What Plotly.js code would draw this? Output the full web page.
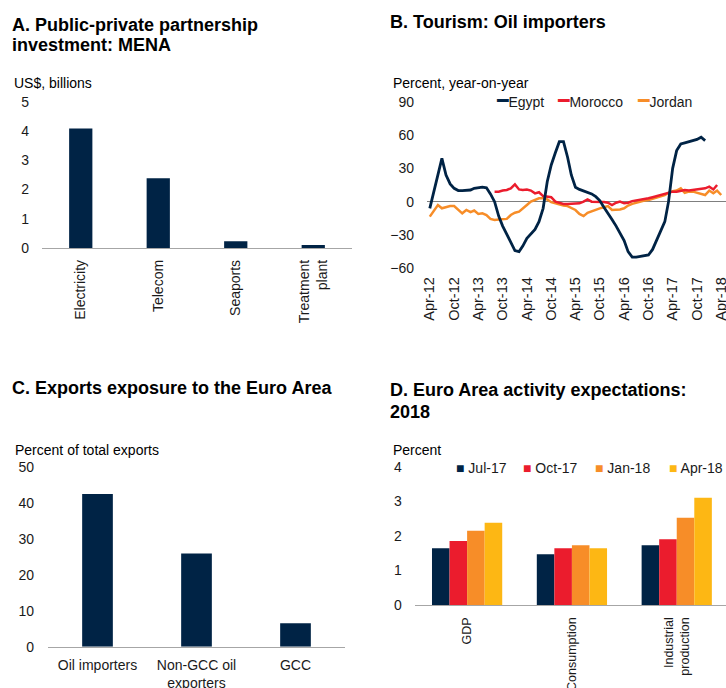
<!DOCTYPE html>
<html><head><meta charset="utf-8">
<script src="https://cdn.plot.ly/plotly-3.0.1.min.js"></script>
<style>html,body{margin:0;padding:0;background:#fff}#chart{width:726px;height:688px}</style>
</head><body><div id="chart"></div>
<script>
// ---- Panel A: Public-private partnership investment (US$ billions)
const pppCategories = ["Electricity", "Telecom", "Seaports", "Treatment<br>plant"];
const pppValues = [4.08, 2.38, 0.23, 0.10];

// ---- Panel B: Tourism, percent y/y, monthly from Apr-2012
const tourismStartYear = 2012, tourismStartMonth = 4;
const egypt = [-6, 9, 25, 39, 24, 16, 12, 10, 10, 10, 10.5, 12, 12.5, 13, 12.5, 7, 0, -13, -22, -29,
  -37, -44, -45, -40, -33, -29, -25, -18, -6, 18, 33, 44, 54, 54, 40, 24, 13, 11, 9.5, 8,
  7, 4.5, 1, -5, -10, -16, -22, -28, -35, -45, -50, -50, -49.5, -49, -48, -43, -35, -27, -18, 0,
  30, 46, 52, 53, 54, 55, 56, 58, 55];
const moroccoStartIndex = 16;
const morocco = [9, 9, 10, 10.5, 12, 15.5, 11, 10.5, 11, 10, 7.5, 8.5, 5, 4.5, 4, 0, -1, -2, -2, -2,
  -2, -1.5, 0, 2, 0, 0, 0, -0.3, -1, -3, -1, 0, -1.5, -1, 0.5, 1, 1.5, 2, 3, 4,
  5, 6.5, 7.5, 8.5, 9, 9, 9.5, 10.5, 10, 10.5, 10.5, 11, 12, 13.5, 11, 15];
const jordan = [-13.5, -8, -3, -6, -5, -4, -4, -7.5, -10.5, -7.5, -9.5, -8, -11, -10.5, -12, -15.5, -16.5, -16, -16, -15.5,
  -12, -10, -9, -6.5, -3, 0, 1.5, 3, 3, 2, -0.5, -1.5, -3, -3.5, -4, -5.5, -7.5, -11, -13, -10,
  -8.5, -7, -6, -5, -4, -7.5, -7.5, -7, -6, -3.5, -2, -1, 0.5, 1, 1.5, 2.5, 4, 5, 6, 8,
  9.5, 10, 12, 8, 9, 9, 8, 7, 6, 10, 7.5, 10, 6];
const tourismNames = ["Egypt", "Morocco", "Jordan"];
const tourismColors = ["#002345", "#EB1C2D", "#F78D28"];

// ---- Panel C: Exports exposure to the Euro Area (percent of total exports)
const exportCategories = ["Oil importers", "Non-GCC oil<br>exporters", "GCC"];
const exportValues = [42.4, 25.9, 6.5];

// ---- Panel D: Euro Area activity expectations for 2018 (percent)
const euroCategories = ["GDP", "Consumption", "Industrial<br>production"];
const euroSeriesNames = ["Jul-17", "Oct-17", "Jan-18", "Apr-18"];
const euroJul17 = [1.64, 1.47, 1.73];
const euroOct17 = [1.85, 1.64, 1.90];
const euroJan18 = [2.15, 1.73, 2.52];
const euroApr18 = [2.38, 1.64, 3.10];
const euroColors = ["#002345", "#EB1C2D", "#F78D28", "#FDB714"];

// ---------------------------------------------------------------
const W = 726, H = 688;
const fx = p => p / W;
const fy = p => 1 - p / H;
const FONT = "Liberation Sans, Arial, sans-serif";
const NAVY = "#002345";

function monthDate(i) {
  const t = tourismStartMonth - 1 + i;
  const y = tourismStartYear + Math.floor(t / 12);
  const m = (t % 12) + 1;
  return y + "-" + String(m).padStart(2, "0") + "-01";
}
const datesFor = (arr, start) => arr.map((_, i) => monthDate(start + i));

const traces = [];
traces.push({type: "bar", x: pppCategories, y: pppValues, width: 0.3,
  marker: {color: NAVY}, xaxis: "x", yaxis: "y", showlegend: false});

const tourismSeries = [[egypt, 0], [morocco, moroccoStartIndex], [jordan, 0]];
[2, 1, 0].forEach(k => {
  const [vals, start] = tourismSeries[k];
  traces.push({type: "scatter", mode: "lines", x: datesFor(vals, start), y: vals,
    name: tourismNames[k], line: {color: tourismColors[k], width: k === 0 ? 2.8 : 2.5},
    xaxis: "x2", yaxis: "y2", showlegend: false});
});

traces.push({type: "bar", x: exportCategories, y: exportValues, width: 0.31,
  marker: {color: NAVY}, xaxis: "x3", yaxis: "y3", showlegend: false});

[euroJul17, euroOct17, euroJan18, euroApr18].forEach((vals, k) => {
  traces.push({type: "bar", x: euroCategories, y: vals, name: euroSeriesNames[k],
    marker: {color: euroColors[k]}, xaxis: "x4", yaxis: "y4", showlegend: false});
});

const tickFont = {family: FONT, size: 14, color: "#1a1a1a"};
const baseY = {showgrid: false, zeroline: false, showline: false, ticks: "", tickfont: tickFont, fixedrange: true};
const baseX = {showgrid: false, zeroline: false, ticks: "", tickfont: tickFont, fixedrange: true,
  showline: true, linecolor: "#a6a6a6", linewidth: 1.3, ticklabeloverflow: "allow"};

const layout = {
  width: W, height: H, margin: {l: 0, r: 0, t: 0, b: 0},
  paper_bgcolor: "#fff", plot_bgcolor: "rgba(0,0,0,0)",
  font: {family: FONT, size: 14, color: "#000"},
  barmode: "group", bargap: 0.33, bargroupgap: 0,
  showlegend: false,
  xaxis: Object.assign({}, baseX, {domain: [fx(42), fx(352)], anchor: "y", tickangle: -90, ticklabelstandoff: 5}),
  yaxis: Object.assign({}, baseY, {domain: [fy(248), fy(101.7)], anchor: "x", range: [0, 5], dtick: 1, ticklabelstandoff: 12}),
  xaxis2: Object.assign({}, baseX, {domain: [fx(427), 1], anchor: "y2", type: "date", showline: false,
    range: ["2012-03-11", "2018-05-07"], tick0: "2012-04-01", dtick: "M6", tickformat: "%b-%y",
    tickangle: -90, ticklabelstandoff: 5, tickfont: {family: FONT, size: 14.5, color: "#1a1a1a"}}),
  yaxis2: Object.assign({}, baseY, {domain: [fy(268.3), fy(101.7)], anchor: "x2", range: [-60, 90], dtick: 30,
    zeroline: true, zerolinecolor: "#7f7f7f", zerolinewidth: 1, ticklabelstandoff: 12}),
  xaxis3: Object.assign({}, baseX, {domain: [fx(48), fx(345)], anchor: "y3", tickangle: 0, ticklabelstandoff: 5}),
  yaxis3: Object.assign({}, baseY, {domain: [fy(646.7), fy(466.7)], anchor: "x3", range: [0, 50], dtick: 10, ticklabelstandoff: 13}),
  xaxis4: Object.assign({}, baseX, {domain: [fx(414.7), 1], anchor: "y4", range: [-0.5, 2.47], tickangle: -90,
    tickfont: {family: FONT, size: 12.5, color: "#1a1a1a"}, ticklabelstandoff: 6}),
  yaxis4: Object.assign({}, baseY, {domain: [fy(605), fy(466.7)], anchor: "x4", range: [0, 4], dtick: 1, ticklabelstandoff: 12}),
  annotations: []
};

function note(text, x, y, size, bold, color) {
  layout.annotations.push({text: text, x: fx(x), y: fy(y), xref: "paper", yref: "paper",
    xanchor: "left", yanchor: "middle", showarrow: false,
    font: {family: FONT, size: size, color: color || "#000", weight: bold ? 700 : 400}});
}
// titles
note("A. Public-private partnership", 10, 25, 18, true);
note("investment: MENA", 10, 45, 18, true);
note("B. Tourism: Oil importers", 388, 22, 18, true);
note("C. Exports exposure to the Euro Area", 10, 388, 18, true);
note("D. Euro Area activity expectations:", 388, 390, 18, true);
note("2018", 388, 411.7, 18, true);
// units
note("US$, billions", 12, 83, 14);
note("Percent, year-on-year", 391, 83, 14);
note("Percent of total exports", 13, 450, 14);
note("Percent", 391, 450, 14);
// legend B (short thick line samples)
const legBx = [494, 555, 635];
tourismNames.forEach((n, k) => {
  note('<span style="color:' + tourismColors[k] + ';font-family:DejaVu Sans;font-size:19px">\u2501</span>' + n,
    legBx[k], 100, 14, false, "#1a1a1a");
});
// legend D (small squares)
const legDx = [453.7, 520.7, 593, 667];
euroSeriesNames.forEach((n, k) => {
  note('<span style="color:' + euroColors[k] + '">\u25A0</span> ' + n, legDx[k], 467.7, 14, false, "#1a1a1a");
});

Plotly.newPlot("chart", traces, layout, {staticPlot: true, displayModeBar: false});
</script>
</body></html>
